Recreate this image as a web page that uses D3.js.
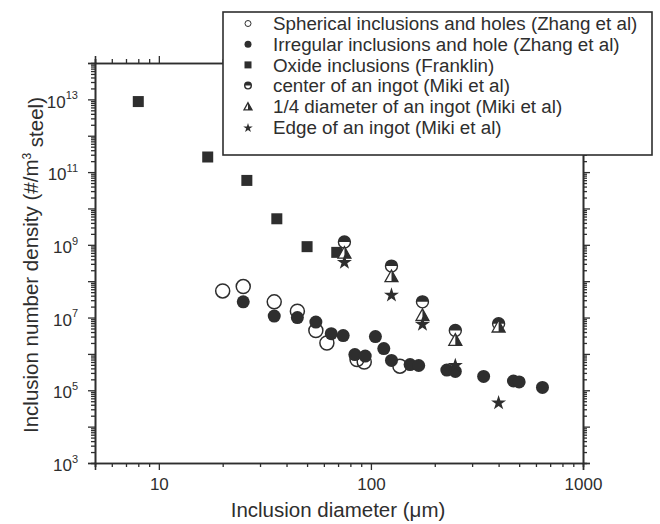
<!DOCTYPE html>
<html>
<head>
<meta charset="utf-8">
<script src="https://cdn.jsdelivr.net/npm/d3@7"></script>
<style>
  body { margin: 0; background: #fff; }
  svg text { font-family: "Liberation Sans", Arial, sans-serif; fill: #2e2e2e; }
</style>
</head>
<body>
<div id="chart"></div>
<script>
// values (diameter in um, density in #/m3)
var sphericalX = [20, 25, 35, 45, 55, 62, 86, 93, 137];
var sphericalY = [5.4e7, 7.1e7, 2.7e7, 1.5e7, 4.4e6, 2.0e6, 7e5, 6e5, 4.6e5];

var irregularX = [25, 35, 45, 55, 65, 74, 84, 94, 105, 115, 125, 153, 168, 228, 250, 340, 470, 500, 644];
var irregularY = [2.7e7, 1.1e7, 1.0e7, 7.5e6, 3.6e6, 3.2e6, 9.6e5, 8.7e5, 3.0e6, 1.4e6, 6.6e5, 5.1e5, 4.8e5, 3.6e5, 3.3e5, 2.4e5, 1.8e5, 1.7e5, 1.2e5];

var oxideX = [8, 17, 26, 36, 50, 69];
var oxideY = [8.7e12, 2.6e11, 5.9e10, 5.2e9, 8.9e8, 6.2e8];

var mikiX = [75, 125, 175, 250, 400];
var centerY = [1.2e9, 2.6e8, 2.7e7, 4.4e6, 6.8e6];
var quarterY = [6.2e8, 1.4e8, 1.2e7, 2.5e6, 5.8e6];
var edgeY = [3.5e8, 4.4e7, 6.9e6, 5.1e5, 4.8e4];

var legendLabels = [
    "Spherical inclusions and holes (Zhang et al)",
    "Irregular inclusions and hole (Zhang et al)",
    "Oxide inclusions (Franklin)",
    "center of an ingot (Miki et al)",
    "1/4 diameter of an ingot (Miki et al)",
    "Edge of an ingot (Miki et al)"
];

var xMajor = [10, 100, 1000];
var yLabelled = [1e3, 1e5, 1e7, 1e9, 1e11, 1e13];

var ink = "#2e2e2e";
var width = 660, height = 524;
var plot = { left: 95, right: 583, top: 63, bottom: 463 };

var svg = d3.select("#chart").append("svg")
    .attr("width", width)
    .attr("height", height);

var x = d3.scaleLog().domain([5, 1000]).range([plot.left, plot.right]);
var y = d3.scaleLog().domain([1e3, 1e14]).range([plot.bottom, plot.top]);

// minor tick values (2..9 in every decade)
var xMinor = [];
[1, 10, 100].forEach(function(d){
    for (var k = 2; k <= 9; k++) {
        var v = d * k;
        if (v >= 5 && v < 1000) xMinor.push(v);
    }
});
var yMajor = [], yMinor = [];
for (var e = 3; e <= 14; e++) {
    yMajor.push(Math.pow(10, e));
    if (e < 14) for (var k = 2; k <= 9; k++) yMinor.push(k * Math.pow(10, e));
}

function styleAxis(g) {
    g.select(".domain").attr("stroke", ink).attr("stroke-width", 1.6);
    g.selectAll(".tick line").attr("stroke", ink).attr("stroke-width", 1.3);
}

// bottom
svg.append("g").attr("transform", `translate(0,${plot.bottom})`)
    .call(d3.axisBottom(x).tickValues(xMinor).tickSize(4).tickFormat(""))
    .call(styleAxis);
svg.append("g").attr("transform", `translate(0,${plot.bottom})`)
    .call(d3.axisBottom(x).tickValues(xMajor).tickSize(7).tickPadding(8).tickFormat(d3.format("d")))
    .call(styleAxis)
    .call(function(g){ g.selectAll("text").style("font-size", "17px").attr("fill", ink); });

// top
svg.append("g").attr("transform", `translate(0,${plot.top})`)
    .call(d3.axisTop(x).tickValues(xMinor).tickSize(4).tickFormat(""))
    .call(styleAxis);
svg.append("g").attr("transform", `translate(0,${plot.top})`)
    .call(d3.axisTop(x).tickValues(xMajor).tickSize(7).tickFormat(""))
    .call(styleAxis);

// left
svg.append("g").attr("transform", `translate(${plot.left},0)`)
    .call(d3.axisLeft(y).tickValues(yMinor).tickSize(4).tickFormat(""))
    .call(styleAxis);
var leftMajor = svg.append("g").attr("transform", `translate(${plot.left},0)`)
    .call(d3.axisLeft(y).tickValues(yMajor).tickSize(7).tickPadding(10).tickFormat(""))
    .call(styleAxis);
leftMajor.selectAll(".tick").filter(function(d){ return yLabelled.indexOf(d) >= 0; })
    .select("text")
    .style("font-size", "17px")
    .attr("fill", ink)
    .attr("dy", "0.45em")
    .each(function(d){
        var t = d3.select(this);
        t.text(null);
        t.append("tspan").text("10");
        t.append("tspan").attr("dy", "-0.75em").style("font-size", "11px")
            .text(Math.round(Math.log10(d)));
    });

// right
svg.append("g").attr("transform", `translate(${plot.right},0)`)
    .call(d3.axisRight(y).tickValues(yMinor).tickSize(4).tickFormat(""))
    .call(styleAxis);
svg.append("g").attr("transform", `translate(${plot.right},0)`)
    .call(d3.axisRight(y).tickValues(yMajor).tickSize(7).tickFormat(""))
    .call(styleAxis);

// axis titles
svg.append("text")
    .attr("x", (plot.left + plot.right) / 2 - 1)
    .attr("y", 517)
    .attr("text-anchor", "middle")
    .style("font-size", "20.5px")
    .text("Inclusion diameter (\u03bcm)");

var yTitle = svg.append("text")
    .attr("transform", `translate(38,${(plot.top + plot.bottom) / 2 + 2}) rotate(-90)`)
    .attr("text-anchor", "middle")
    .style("font-size", "20.5px");
yTitle.append("tspan").text("Inclusion number density (#/m");
yTitle.append("tspan").attr("dy", "-0.6em").style("font-size", "12px").text("3");
yTitle.append("tspan").attr("dy", "0.6em").text(" steel)");

// marker helpers
function zip(xs, ys) { return xs.map(function(v, i){ return { x: v, y: ys[i] }; }); }

function halfCircle(g, r) {
    g.append("circle").attr("r", r).attr("fill", "#fff").attr("stroke", ink).attr("stroke-width", 1.4);
    g.append("path").attr("d", `M${-r},0 A${r},${r} 0 0 1 ${r},0 Z`).attr("fill", ink);
}
function halfTriangle(g, s) {
    var h = s * 0.9;
    g.append("path").attr("d", `M0,${-h/2} L${s/2},${h/2} L${-s/2},${h/2} Z`)
        .attr("fill", "#fff").attr("stroke", ink).attr("stroke-width", 1.3).attr("stroke-linejoin", "miter");
    g.append("path").attr("d", `M0,${-h/2} L${s/2},${h/2} L0,${h/2} Z`).attr("fill", ink);
}

var marks = svg.append("g");

marks.selectAll(".oxide").data(zip(oxideX, oxideY)).join("rect")
    .attr("class", "oxide")
    .attr("x", function(d){ return x(d.x) - 5.5; })
    .attr("y", function(d){ return y(d.y) - 5.5; })
    .attr("width", 11).attr("height", 11)
    .attr("fill", ink);

marks.selectAll(".spherical").data(zip(sphericalX, sphericalY)).join("circle")
    .attr("class", "spherical")
    .attr("cx", function(d){ return x(d.x); })
    .attr("cy", function(d){ return y(d.y); })
    .attr("r", 7)
    .attr("fill", "none").attr("stroke", ink).attr("stroke-width", 1.5);

marks.selectAll(".irregular").data(zip(irregularX, irregularY)).join("circle")
    .attr("class", "irregular")
    .attr("cx", function(d){ return x(d.x); })
    .attr("cy", function(d){ return y(d.y); })
    .attr("r", 6.5)
    .attr("fill", ink);

marks.selectAll(".center").data(zip(mikiX, centerY)).join("g")
    .attr("class", "center")
    .attr("transform", function(d){ return `translate(${x(d.x)},${y(d.y)})`; })
    .each(function(){ halfCircle(d3.select(this), 6); });

marks.selectAll(".quarter").data(zip(mikiX, quarterY)).join("g")
    .attr("class", "quarter")
    .attr("transform", function(d){ return `translate(${x(d.x)},${y(d.y)})`; })
    .each(function(){ halfTriangle(d3.select(this), 13); });

marks.selectAll(".edge").data(zip(mikiX, edgeY)).join("path")
    .attr("class", "edge")
    .attr("transform", function(d){ return `translate(${x(d.x)},${y(d.y) + 1})`; })
    .attr("d", d3.symbol().type(d3.symbolStar).size(70))
    .attr("fill", ink);

// legend
var lg = svg.append("g");
lg.append("rect")
    .attr("x", 223).attr("y", 12).attr("width", 429).attr("height", 143)
    .attr("fill", "#fff").attr("stroke", ink).attr("stroke-width", 1.6);

var rowY = function(i){ return 23.5 + i * 20.7; };
var symX = 248;

lg.selectAll(".ltext").data(legendLabels).join("text")
    .attr("class", "ltext")
    .attr("x", 273)
    .attr("y", function(d, i){ return rowY(i); })
    .attr("dy", "0.36em")
    .style("font-size", "18.8px")
    .text(function(d){ return d; });

lg.append("circle").attr("cx", symX).attr("cy", rowY(0)).attr("r", 3)
    .attr("fill", "none").attr("stroke", ink).attr("stroke-width", 1);
lg.append("circle").attr("cx", symX).attr("cy", rowY(1)).attr("r", 3.5).attr("fill", ink);
lg.append("rect").attr("x", symX - 3.5).attr("y", rowY(2) - 3.5).attr("width", 7).attr("height", 7).attr("fill", ink);
halfCircle(lg.append("g").attr("transform", `translate(${symX},${rowY(3)})`), 3.3);
halfTriangle(lg.append("g").attr("transform", `translate(${symX},${rowY(4)})`), 8);
lg.append("path").attr("transform", `translate(${symX},${rowY(5) + 1})`)
    .attr("d", d3.symbol().type(d3.symbolStar).size(28)).attr("fill", ink);
</script>
</body>
</html>
